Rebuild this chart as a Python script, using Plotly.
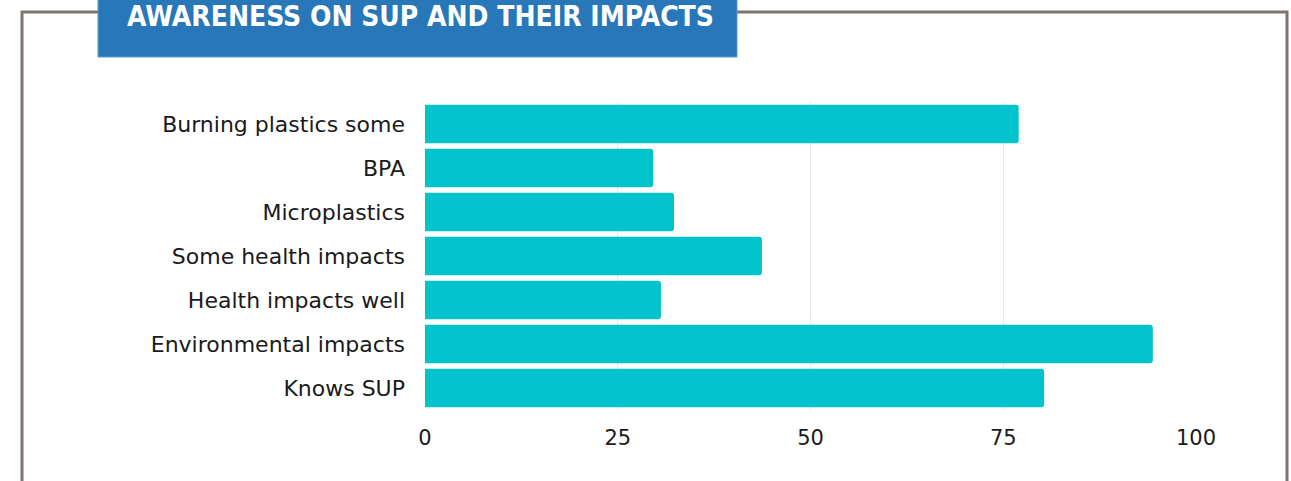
import plotly.graph_objects as go

categories = [
    "Burning plastics some",
    "BPA",
    "Microplastics",
    "Some health impacts",
    "Health impacts well",
    "Environmental impacts",
    "Knows SUP",
]
values = [77.0, 29.6, 32.3, 43.7, 30.6, 94.4, 80.3]
x_ticks = [0, 25, 50, 75, 100]
title_text = "AWARENESS ON SUP AND THEIR IMPACTS"

W, H = 1291, 481
L, R, T, B = 425, 1196, 102, 410  # plot area in pixels


def px_x(p):
    return (p - L) / (R - L)


def px_y(p):
    return (B - p) / (B - T)


fig = go.Figure(
    go.Bar(
        x=values,
        y=categories,
        orientation="h",
        marker=dict(color="#00c3cb", line=dict(width=0)),
        hoverinfo="x+y",
    )
)

fig.update_layout(
    width=W,
    height=H,
    margin=dict(l=L, r=W - R, t=T, b=H - B, pad=0),
    paper_bgcolor="white",
    plot_bgcolor="white",
    bargap=0.12,
    barcornerradius=3,
    showlegend=False,
    font=dict(family="DejaVu Sans, sans-serif", color="#1a1a1a"),
    xaxis=dict(
        range=[0, 100],
        tickvals=x_ticks,
        ticktext=[str(v) for v in x_ticks],
        showgrid=True,
        gridcolor="#e6e6e6",
        gridwidth=1,
        zeroline=False,
        showline=False,
        ticks="",
        tickfont=dict(size=21, color="#1a1a1a"),
        ticklabelstandoff=13,
        fixedrange=True,
    ),
    yaxis=dict(
        categoryorder="array",
        categoryarray=categories,
        autorange="reversed",
        showgrid=False,
        zeroline=False,
        showline=False,
        ticks="",
        tickfont=dict(size=22, color="#1a1a1a"),
        ticklabelstandoff=19,
        fixedrange=True,
    ),
    shapes=[
        # outer frame
        dict(
            type="rect", xref="paper", yref="paper",
            x0=px_x(22), x1=px_x(1287), y0=px_y(520), y1=px_y(12),
            line=dict(color="#7f756e", width=3), fillcolor="rgba(0,0,0,0)",
            layer="below",
        ),
        # title banner
        dict(
            type="rect", xref="paper", yref="paper",
            x0=px_x(98), x1=px_x(737), y0=px_y(57), y1=px_y(-20),
            line=dict(color="#5b9bd0", width=1), fillcolor="#2877b9",
            layer="above",
        ),
    ],
    annotations=[
        dict(
            text="<b>" + title_text + "</b>",
            xref="paper", yref="paper",
            x=px_x(420), y=px_y(27),
            xanchor="center", yanchor="bottom",
            showarrow=False, borderpad=0,
            yshift=-7,
            font=dict(family="DejaVu Sans Condensed, sans-serif",
                      size=28, color="white"),
        )
    ],
)

fig.write_html("out.html")
